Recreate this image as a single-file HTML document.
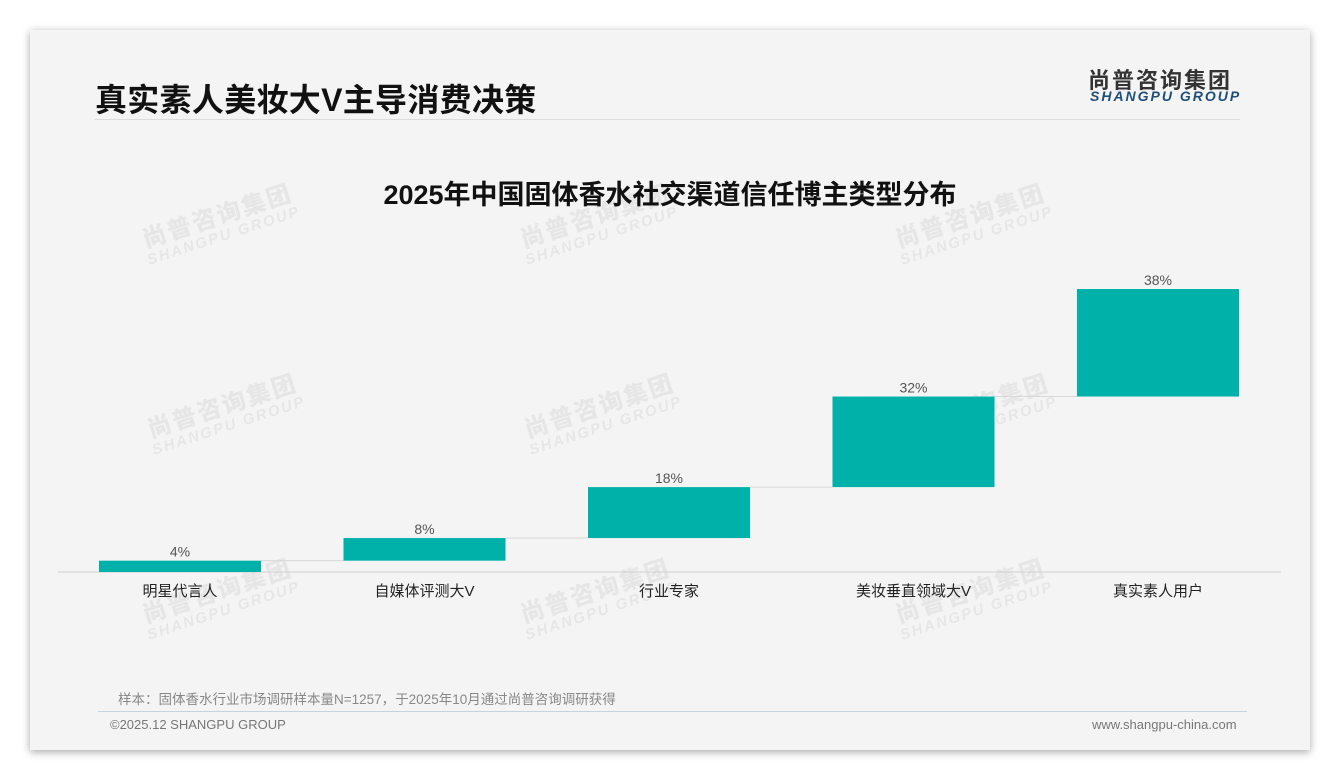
<!DOCTYPE html>
<html><head><meta charset="utf-8"><style>
body{margin:0;width:1340px;height:780px;background:#fff;position:relative;overflow:hidden;font-family:"Liberation Sans","Noto Sans CJK SC",sans-serif}
#card{position:absolute;left:30px;top:30px;width:1280px;height:720px;background:#f4f4f4;box-shadow:0 2px 8px rgba(0,0,0,.35)}
.abs{position:absolute}
.wm{position:absolute;color:rgba(0,0,0,0.055);transform:rotate(-18deg);font-weight:bold;line-height:1;text-align:center}
.wm b{display:block;font-size:24px;letter-spacing:2px}
.wm i{display:block;font-size:15px;letter-spacing:2px}
</style></head><body>
<div id="card"></div>
<div class="abs" style="left:95px;top:75px;font-size:32px;font-weight:bold;color:#111;letter-spacing:0.3px">真实素人美妆大V主导消费决策</div>
<div class="abs" style="left:95px;top:119px;width:1145px;height:1px;background:#dcdcdc"></div>
<div class="abs" style="left:1088px;top:63px;font-size:22px;font-weight:bold;color:#333;letter-spacing:2px">尚普咨询集团</div>
<div class="abs" style="left:1090px;top:88px;font-size:14px;font-weight:bold;font-style:italic;color:#1f4e79;letter-spacing:2px">SHANGPU GROUP</div>
<div class="abs" style="left:0;width:1340px;top:173px;text-align:center;font-size:27px;font-weight:bold;color:#111">2025年中国固体香水社交渠道信任博主类型分布</div>
<div id="wms"></div>
<svg class="abs" style="left:0;top:0" width="1340" height="780" id="chart"></svg>
<div class="abs" style="left:118px;top:688px;font-size:13.5px;color:#888">样本：固体香水行业市场调研样本量N=1257，于2025年10月通过尚普咨询调研获得</div>
<div class="abs" style="left:98px;top:711px;width:1149px;height:1px;background:#c5d3e0"></div>
<div class="abs" style="left:110px;top:717px;font-size:13px;color:#777">©2025.12 SHANGPU GROUP</div>
<div class="abs" style="left:1092px;top:717px;font-size:13px;color:#777">www.shangpu-china.com</div>
<script>
const categories=["明星代言人","自媒体评测大V","行业专家","美妆垂直领域大V","真实素人用户"];
const values=[4,8,18,32,38];
const valueLabels=["4%","8%","18%","32%","38%"];
const NS="http://www.w3.org/2000/svg";
const svg=document.getElementById('chart');
const baseY=572,pxPer=2.83,x0=99,step=244.5,bw=162;
const y=v=>baseY-v*pxPer;
const xs=i=>x0+i*step;
function mk(t,a){const e=document.createElementNS(NS,t);for(const k in a)e.setAttribute(k,a[k]);svg.appendChild(e);return e;}
const ax=mk('line',{x1:58,x2:1281,y1:baseY,y2:baseY,stroke:'#d0d0d0','stroke-width':1});


let cum=0;
values.forEach((v,i)=>{
  const top=cum+v;
  if(i<values.length-1){
    const c=mk('line',{x1:xs(i)+bw,x2:xs(i+1),y1:y(top),y2:y(top),stroke:'#d8d8d8','stroke-width':1});
    
    
  }
  const r=mk('rect',{x:xs(i),y:y(top),width:bw,height:y(cum)-y(top),fill:'#00b1aa'});
  
  
  const t=mk('text',{x:xs(i)+bw/2,y:y(top)-4,'text-anchor':'middle','font-size':14,fill:'#555'});
  t.textContent=valueLabels[i];
  
  
  const c2=mk('text',{x:xs(i)+bw/2,y:596,'text-anchor':'middle','font-size':15,fill:'#222'});
  c2.textContent=categories[i];
  
  
  cum=top;
});
const wmPos=[[140,205],[518,205],[893,205],[145,395],[522,395],[897,395],[140,580],[518,580],[893,580]];
const w=document.getElementById('wms');
wmPos.forEach(p=>{const d=document.createElement('div');d.className='wm';d.style.left=p[0]+'px';d.style.top=p[1]+'px';


d.innerHTML='<b>尚普咨询集团</b><i>SHANGPU GROUP</i>';w.appendChild(d);});
</script>
</body></html>
